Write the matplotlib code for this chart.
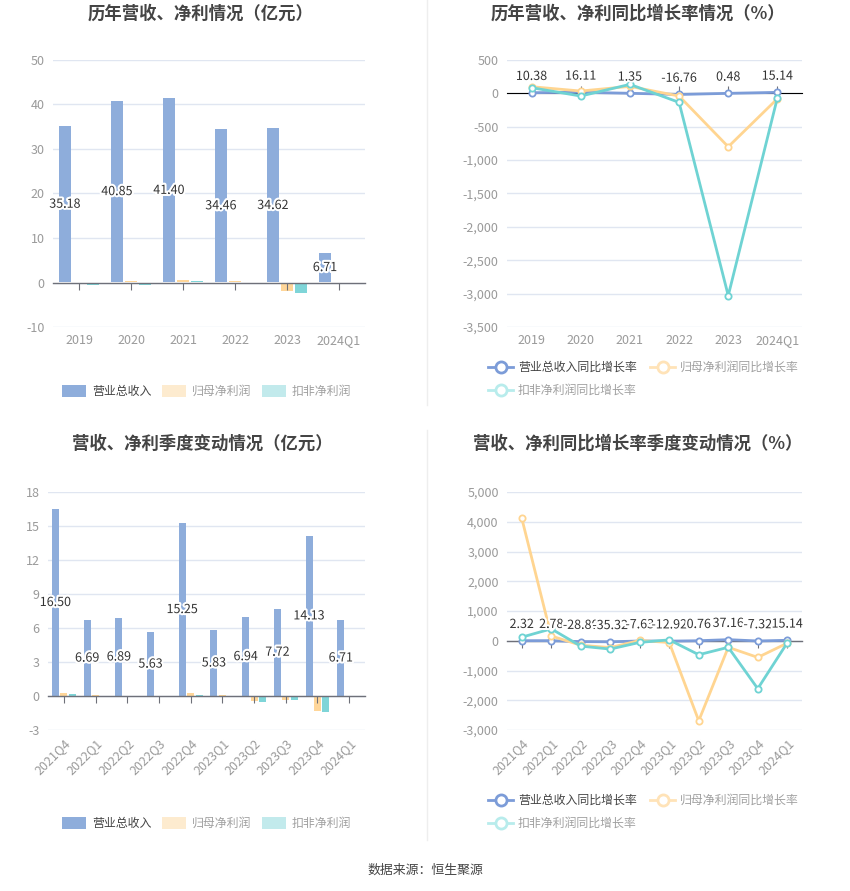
import numpy as np
import matplotlib
matplotlib.use('Agg')
import matplotlib.pyplot as plt
import matplotlib.patheffects as pe
from matplotlib.lines import Line2D
from matplotlib.patches import Rectangle
from matplotlib.ticker import FuncFormatter

plt.rcParams['font.family'] = ['Noto Sans CJK SC', 'DejaVu Sans']
plt.rcParams['axes.unicode_minus'] = False

# Data
# ----
years = ['2019', '2020', '2021', '2022', '2023', '2024Q1']
rev_year = [35.18, 40.85, 41.40, 34.46, 34.62, 6.71]
np_year = [0.22, 0.24, 0.50, 0.27, -1.90, 0.01]
dnp_year = [-0.52, -0.62, 0.23, -0.08, -2.25, 0.005]

rev_year_g = [10.38, 16.11, 1.35, -16.76, 0.48, 15.14]
np_year_g = [100, 35, 105, -40, -800, -80]
dnp_year_g = [85, -40, 135, -135, -3030, -65]

quarters = ['2021Q4', '2022Q1', '2022Q2', '2022Q3', '2022Q4',
            '2023Q1', '2023Q2', '2023Q3', '2023Q4', '2024Q1']
rev_q = [16.50, 6.69, 6.89, 5.63, 15.25, 5.83, 6.94, 7.72, 14.13, 6.71]
np_q = [0.25, 0.10, 0.02, -0.10, 0.25, 0.05, -0.45, -0.32, -1.32, 0.01]
dnp_q = [0.15, 0.02, -0.07, -0.12, 0.08, 0.03, -0.50, -0.35, -1.40, 0.005]

rev_q_g = [2.32, 2.78, -28.80, -35.32, -7.63, -12.92, 0.76, 37.16, -7.32, 15.14]
np_q_g = [4120, 160, -150, -230, 10, -60, -2690, -220, -560, -80]
dnp_q_g = [120, 400, -180, -280, -55, 30, -470, -220, -1610, -70]

bar_labels = ['营业总收入', '归母净利润', '扣非净利润']
line_labels = ['营业总收入同比增长率', '归母净利润同比增长率', '扣非净利润同比增长率']

# Style
# -----
W, H = 850, 891
C_REV, C_NP, C_DNP = '#8EADDB', '#FFD699', '#7FD5D8'
C_REV_L, C_NP_L, C_DNP_L = '#7C9CD8', '#FFD591', '#6FD3D3'
GRID = '#E0E6F1'
AXIS = '#6E7079'
TICK = '#9A9A9A'
TXT = '#333333'
stroke = [pe.withStroke(linewidth=3, foreground='white')]


def fx(x):
    return x / W


def fy(y):
    return 1 - y / H


def make_ax(fig, left, top, right, bottom):
    return fig.add_axes([fx(left), fy(bottom), (right - left) / W, (bottom - top) / H])


def style_ax(ax, cats, ylim, yticks, fmt=None, rotate=False):
    n = len(cats)
    ax.set_xlim(-0.5, n - 0.5)
    ax.set_ylim(*ylim)
    ax.set_yticks(yticks)
    if fmt is not None:
        ax.yaxis.set_major_formatter(FuncFormatter(fmt))
    ax.set_xticks(range(n))
    if rotate:
        ax.set_xticklabels(cats, rotation=45, ha='right', va='top',
                           rotation_mode='anchor')
    else:
        ax.set_xticklabels(cats)
    for s in ax.spines.values():
        s.set_visible(False)
    ax.grid(True, axis='y', color=GRID, lw=1)
    ax.set_axisbelow(True)
    ax.tick_params(axis='both', length=0, colors=TICK, labelsize=9)
    ax.tick_params(axis='y', pad=6)
    ax.tick_params(axis='x', pad=5)
    # zero line with category ticks
    zero = (0 - ylim[0]) / (ylim[1] - ylim[0])
    sec = ax.secondary_xaxis(zero)
    sec.set_xticks(range(n))
    sec.set_xticklabels([''] * n)
    sec.tick_params(length=5, color=AXIS, direction='out')
    sec.spines['bottom'].set_color(AXIS)
    sec.spines['bottom'].set_linewidth(1)
    sec.set_zorder(3)


def bar_panel(ax, cats, rev, npv, dnp, width, off):
    x = np.arange(len(cats))
    ax.bar(x - off, rev, width, color=C_REV, zorder=2)
    ax.bar(x, npv, width, color=C_NP, zorder=2)
    ax.bar(x + off, dnp, width, color=C_DNP, zorder=2)
    for xi, v in zip(x, rev):
        ax.text(xi - off, v / 2, f'{v:.2f}', ha='center', va='center',
                fontsize=9, color=TXT, path_effects=stroke, zorder=5)


def line_panel(ax, cats, rev_g, np_g, dnp_g):
    x = np.arange(len(cats))
    for vals, c in [(rev_g, C_REV_L), (np_g, C_NP_L), (dnp_g, C_DNP_L)]:
        ax.plot(x, vals, color=c, lw=2, marker='o', ms=4.5, mfc='white',
                mec=c, mew=1.3, zorder=4)
    for xi, v in zip(x, rev_g):
        ax.annotate(f'{v:.2f}', (xi, v), xytext=(0, 7), textcoords='offset points',
                    ha='center', va='bottom', fontsize=9, color=TXT,
                    path_effects=stroke, zorder=6)


def bar_legend(fig, y):
    cols = ['#8EADDB', '#FDEBCF', '#C2EAEC']
    tcols = ['#444444', '#A0A0A0', '#A0A0A0']
    for i, (lab, c, tc) in enumerate(zip(bar_labels, cols, tcols)):
        x0 = 62 + 100 * i
        fig.add_artist(Rectangle((fx(x0), fy(y + 6)), 24 / W, 12 / H,
                                 transform=fig.transFigure, facecolor=c,
                                 edgecolor='none'))
        fig.text(fx(x0 + 30), fy(y), lab, fontsize=8.6, color=tc,
                 ha='left', va='center')


def line_legend(fig, y1, y2):
    cols = [C_REV_L, '#FFE3B8', '#B8ECEC']
    tcols = ['#444444', '#A0A0A0', '#A0A0A0']
    pos = [(488, y1), (650, y1), (488, y2)]
    for lab, c, tc, (x0, y) in zip(line_labels, cols, tcols, pos):
        fig.add_artist(Line2D([fx(x0), fx(x0 + 25)], [fy(y), fy(y)], color=c,
                              lw=2, transform=fig.transFigure))
        fig.add_artist(Line2D([fx(x0 + 12.5)], [fy(y)], color=c, marker='o',
                              ms=8, mfc='white', mec=c, mew=2,
                              transform=fig.transFigure))
        fig.text(fx(x0 + 30), fy(y), lab, fontsize=8.6, color=tc,
                 ha='left', va='center')


comma = lambda v, p: f'{v:,.0f}'

fig = plt.figure(figsize=(W / 100, H / 100), dpi=100)

# Top left: annual revenue / profit
ax1 = make_ax(fig, 53, 60, 365, 327)
style_ax(ax1, years, (-10, 50), np.arange(-10, 51, 10))
bar_panel(ax1, years, rev_year, np_year, dnp_year, 0.23, 0.27)

# Top right: annual growth
ax2 = make_ax(fig, 507, 60, 802, 327)
style_ax(ax2, years, (-3500, 500), np.arange(-3500, 501, 500), fmt=comma)
line_panel(ax2, years, rev_year_g, np_year_g, dnp_year_g)

# Bottom left: quarterly revenue / profit
ax3 = make_ax(fig, 48, 492, 365, 730)
style_ax(ax3, quarters, (-3, 18), np.arange(-3, 19, 3), rotate=True)
bar_panel(ax3, quarters, rev_q, np_q, dnp_q, 0.22, 0.265)

# Bottom right: quarterly growth
ax4 = make_ax(fig, 507, 492, 802, 730)
style_ax(ax4, quarters, (-3000, 5000), np.arange(-3000, 5001, 1000), fmt=comma,
         rotate=True)
line_panel(ax4, quarters, rev_q_g, np_q_g, dnp_q_g)

# Titles
title_kw = dict(fontsize=12.5, fontweight='bold', color='#444444', ha='center',
                va='center')
fig.text(fx(201), fy(14), '历年营收、净利情况（亿元）', **title_kw)
fig.text(fx(638), fy(14), '历年营收、净利同比增长率情况（%）', **title_kw)
fig.text(fx(202), fy(444), '营收、净利季度变动情况（亿元）', **title_kw)
fig.text(fx(638), fy(444), '营收、净利同比增长率季度变动情况（%）', **title_kw)

# Legends
bar_legend(fig, 391)
bar_legend(fig, 823)
line_legend(fig, 367, 390)
line_legend(fig, 800, 823)

# Dividers
fig.add_artist(Line2D([fx(427), fx(427)], [fy(0), fy(405)], color='#EEEEEE',
                      lw=1, transform=fig.transFigure))
fig.add_artist(Line2D([fx(427), fx(427)], [fy(430), fy(840)], color='#EEEEEE',
                      lw=1, transform=fig.transFigure))

fig.text(0.5, fy(870), '数据来源：恒生聚源', fontsize=9.3, color='#444444',
         ha='center', va='center')

fig.savefig('out.png', dpi=100)
